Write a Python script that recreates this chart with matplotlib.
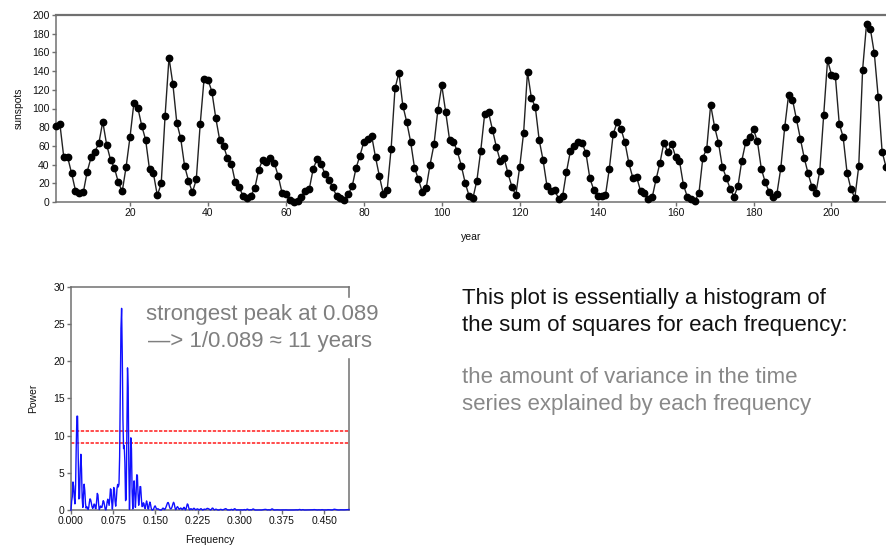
import numpy as np
import matplotlib
matplotlib.use("Agg")
import matplotlib.pyplot as plt

# Yearly mean sunspot numbers, year index 1..214
sunspots = [
    80.9, 83.4, 47.7, 47.8, 30.7, 12.2, 9.6, 10.2, 32.4, 47.6,
    54.0, 62.9, 85.9, 61.2, 45.1, 36.4, 20.9, 11.4, 37.8, 69.8,
    106.1, 100.8, 81.6, 66.5, 34.8, 30.6, 7.0, 19.8, 92.5, 154.4,
    125.9, 84.8, 68.1, 38.5, 22.8, 10.2, 24.1, 82.9, 132.0, 130.9,
    118.1, 89.9, 66.6, 60.0, 46.9, 41.0, 21.3, 16.0, 6.4, 4.1,
    6.8, 14.5, 34.0, 45.0, 43.1, 47.5, 42.2, 28.1, 10.1, 8.1,
    2.5, 0.0, 1.4, 5.0, 12.2, 13.9, 35.4, 45.8, 41.1, 30.1,
    23.9, 15.6, 6.6, 4.0, 1.8, 8.5, 16.6, 36.3, 49.6, 64.2,
    67.0, 70.9, 47.8, 27.5, 8.5, 13.2, 56.9, 121.5, 138.3, 103.2,
    85.7, 64.6, 36.7, 24.2, 10.7, 15.0, 40.1, 61.5, 98.5, 124.7,
    96.3, 66.6, 64.5, 54.1, 39.0, 20.6, 6.7, 4.3, 22.7, 54.8,
    93.8, 95.8, 77.2, 59.1, 44.0, 47.0, 30.5, 16.3, 7.3, 37.6,
    74.0, 139.0, 111.2, 101.6, 66.2, 44.7, 17.0, 11.3, 12.4, 3.4,
    6.0, 32.3, 54.3, 59.7, 63.7, 63.5, 52.2, 25.4, 13.1, 6.8,
    6.3, 7.1, 35.6, 73.0, 85.1, 78.0, 64.0, 41.8, 26.2, 26.7,
    12.1, 9.5, 2.7, 5.0, 24.4, 42.0, 63.5, 53.8, 62.0, 48.5,
    43.9, 18.6, 5.7, 3.6, 1.4, 9.6, 47.4, 57.1, 103.9, 80.6,
    63.6, 37.6, 26.1, 14.2, 5.8, 16.7, 44.3, 63.9, 69.0, 77.8,
    64.9, 35.7, 21.2, 11.1, 5.7, 8.7, 36.1, 79.7, 114.4, 109.6,
    88.8, 67.8, 47.5, 30.6, 16.3, 9.6, 33.2, 92.6, 151.6, 136.3,
    134.7, 83.9, 69.4, 31.5, 13.9, 4.4, 38.0, 141.7, 190.2, 184.8,
    159.0, 112.3, 53.9, 37.5,
]
years = list(range(1, len(sunspots) + 1))

year_ticks = [20, 40, 60, 80, 100, 120, 140, 160, 180, 200]
count_ticks = [0, 20, 40, 60, 80, 100, 120, 140, 160, 180, 200]
freq_ticks = [0.000, 0.075, 0.150, 0.225, 0.300, 0.375, 0.450]
freq_tick_labels = ["0.000", "0.075", "0.150", "0.225", "0.300", "0.375", "0.450"]
power_ticks = [0, 5, 10, 15, 20, 25, 30]
# white-noise significance levels (p = 0.01 and p = 0.05)
signif_levels = [10.66, 9.05]

FONT = ["Liberation Sans", "DejaVu Sans"]
plt.rcParams["font.family"] = FONT

SPINE = "#707070"
TXT = "#111111"


def lomb_scargle(t, y, freqs):
    t = np.asarray(t, float)
    y = np.asarray(y, float)
    yc = y - y.mean()
    var = y.var(ddof=1)
    power = np.empty(len(freqs))
    for i, f in enumerate(freqs):
        w = 2 * np.pi * f
        tau = np.arctan2(np.sum(np.sin(2 * w * t)), np.sum(np.cos(2 * w * t))) / (2 * w)
        c = np.cos(w * (t - tau))
        s = np.sin(w * (t - tau))
        cc = np.sum(c * c)
        ss = np.sum(s * s)
        pc = np.sum(yc * c) ** 2 / cc if cc > 1e-12 else 0.0
        ps = np.sum(yc * s) ** 2 / ss if ss > 1e-12 else 0.0
        power[i] = (pc + ps) / (2 * var)
    return power


fig = plt.figure(figsize=(8.86, 5.46), dpi=100)
W, H = 886.0, 546.0


def style_axes(ax):
    for side in ["left", "bottom", "top", "right"]:
        ax.spines[side].set_color(SPINE)
        ax.spines[side].set_linewidth(1.1)
    ax.tick_params(direction="out", length=3, width=1, color=SPINE,
                   labelsize=7.5, labelcolor=TXT, pad=1.5)


# ---- time series ----
ax1 = fig.add_axes([56 / W, 1 - 202 / H, 1 - 56 / W, (202 - 15) / H])
ax1.plot(years, sunspots, color="#222222", lw=1.0, marker="o", ms=4.6,
         mfc="black", mec="black", clip_on=False, zorder=3)
ax1.set_xlim(1, 214)
ax1.set_ylim(0, 200)
ax1.set_xticks(year_ticks)
ax1.set_yticks(count_ticks)
style_axes(ax1)
ax1.spines["top"].set_linewidth(1.6)
ax1.spines["right"].set_visible(False)
ax1.set_xlabel("year", fontsize=7.5, color=TXT, labelpad=10)
ax1.set_ylabel("sunspots", fontsize=7.5, color=TXT, labelpad=6)

# ---- periodogram ----
ofac = 4
N = len(sunspots)
freqs = np.arange(1, int(0.4945 * N * ofac) + 1) / (N * ofac)
power = lomb_scargle(years, sunspots, freqs)
freqs = np.concatenate([[0.0], freqs])
power = np.concatenate([[0.0], power])

ax2 = fig.add_axes([71 / W, 1 - 510 / H, (349 - 71) / W, (510 - 286.7) / H])
ax2.plot(freqs, power, color="#1010ff", lw=1.0, zorder=3, clip_on=False)
for lvl in signif_levels:
    ax2.axhline(lvl, color="#ff1a1a", lw=1.1, ls=(0, (2.2, 1.0)), zorder=2)
ax2.set_xlim(0, freqs[-1])
ax2.set_ylim(0, 30)
ax2.set_xticks(freq_ticks)
ax2.set_xticklabels(freq_tick_labels)
ax2.set_yticks(power_ticks)
style_axes(ax2)
ax2.set_xlabel("Frequency", fontsize=7.5, color=TXT, labelpad=6)
ax2.set_ylabel("Power", fontsize=7.5, color=TXT, labelpad=11)

# ---- annotations ----
peak_txt = dict(fontsize=16, color="#7f7f7f", ha="left", va="baseline",
                family=FONT, backgroundcolor="white")
fig.text(146.5 / W, 1 - 320 / H, "strongest peak at 0.089", **peak_txt)
fig.text(147.5 / W, 1 - 346.5 / H, "\u2014> 1/0.089 \u2248 11 years", **peak_txt)

note_dark = dict(fontsize=16, color="#111111", ha="left", va="baseline", family=FONT)
note_gray = dict(fontsize=16, color="#888888", ha="left", va="baseline", family=FONT)
fig.text(462 / W, 1 - 304 / H, "This plot is essentially a histogram of", **note_dark)
fig.text(462 / W, 1 - 331 / H, "the sum of squares for each frequency:", **note_dark)
fig.text(462 / W, 1 - 383 / H, "the amount of variance in the time", **note_gray)
fig.text(462 / W, 1 - 410 / H, "series explained by each frequency", **note_gray)

fig.savefig("out.png", dpi=100)
